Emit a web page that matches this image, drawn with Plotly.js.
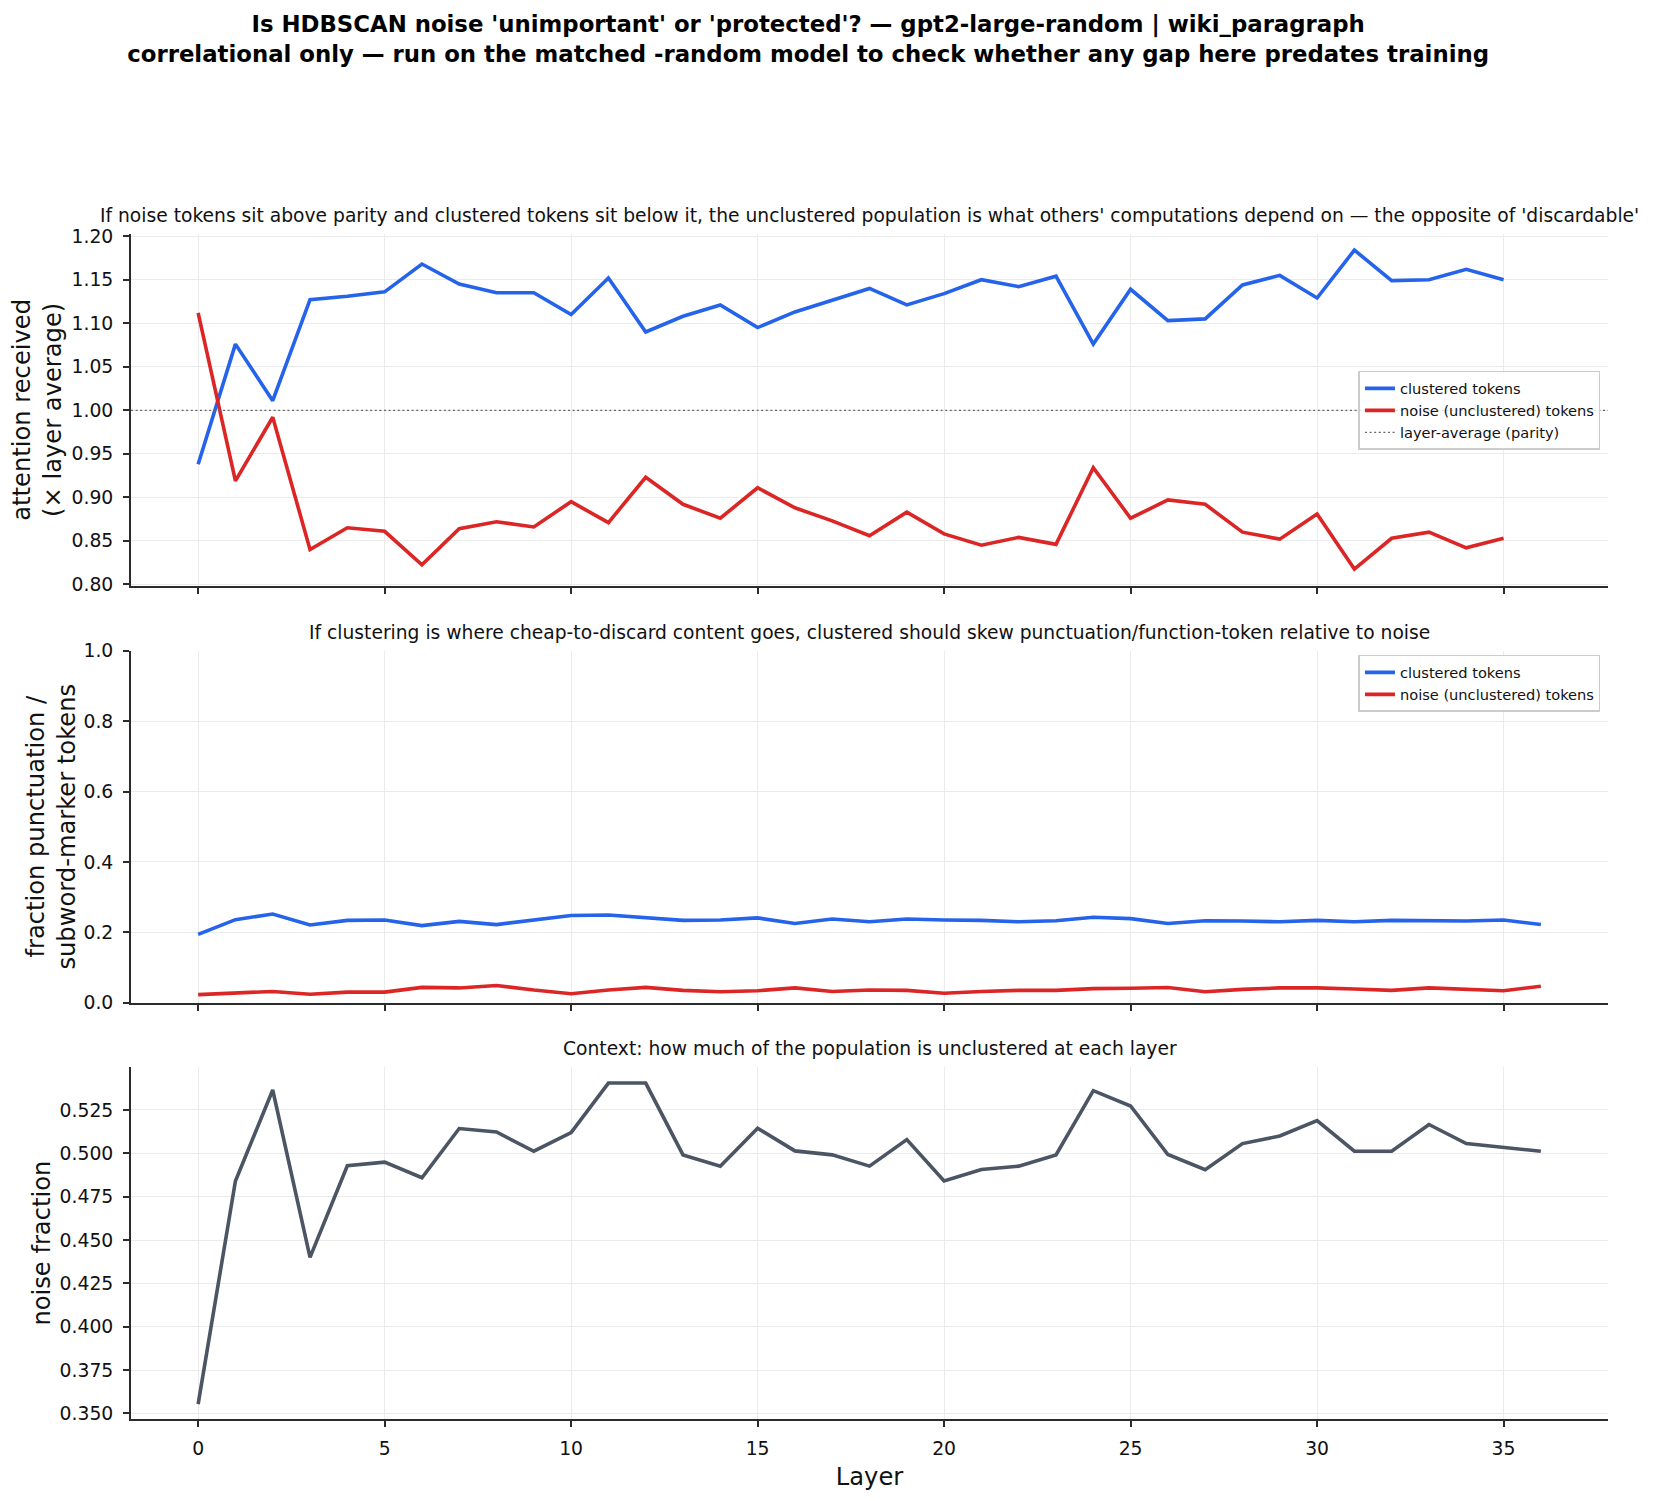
<!DOCTYPE html>
<html>
<head>
<meta charset="utf-8">
<script src="https://cdn.plot.ly/plotly-3.0.1.min.js"></script>
<style>
  html, body { margin: 0; padding: 0; background: #ffffff; }
  #chart { width: 1656px; height: 1501px; }
</style>
</head>
<body>
<div id="chart"></div>
<script>
// Layer indices: attention stats cover layers 0-35, token stats cover 0-36
const layersAttn = [0,1,2,3,4,5,6,7,8,9,10,11,12,13,14,15,16,17,18,19,20,21,22,23,24,25,26,27,28,29,30,31,32,33,34,35];
const layersAll = [0,1,2,3,4,5,6,7,8,9,10,11,12,13,14,15,16,17,18,19,20,21,22,23,24,25,26,27,28,29,30,31,32,33,34,35,36];

// Attention received, relative to the layer average
const attnClustered = [0.938,1.076,1.011,1.127,1.131,1.136,1.168,1.145,1.135,1.135,1.110,1.152,1.090,1.108,1.121,1.095,1.113,1.126,1.140,1.121,1.134,1.150,1.142,1.154,1.076,1.139,1.103,1.105,1.144,1.155,1.129,1.184,1.149,1.150,1.162,1.150];
const attnNoise = [1.112,0.919,0.992,0.840,0.865,0.861,0.8225,0.864,0.872,0.866,0.895,0.871,0.923,0.892,0.876,0.911,0.888,0.873,0.856,0.883,0.858,0.845,0.854,0.846,0.934,0.876,0.897,0.892,0.860,0.852,0.881,0.8176,0.853,0.860,0.842,0.853];
const PARITY = 1.0;

// Fraction of punctuation / subword-marker tokens in each population
const punctClustered = [0.194,0.236,0.252,0.221,0.234,0.235,0.219,0.231,0.222,0.234,0.248,0.249,0.241,0.234,0.235,0.241,0.225,0.238,0.230,0.238,0.235,0.234,0.230,0.233,0.243,0.239,0.225,0.233,0.232,0.230,0.234,0.230,0.234,0.233,0.232,0.235,0.222];
const punctNoise = [0.023,0.0265,0.032,0.024,0.030,0.030,0.0435,0.042,0.049,0.036,0.0256,0.036,0.0435,0.035,0.031,0.034,0.042,0.032,0.036,0.035,0.027,0.032,0.035,0.035,0.040,0.041,0.043,0.031,0.038,0.042,0.042,0.039,0.035,0.042,0.038,0.034,0.047];

// Share of tokens left unclustered by HDBSCAN
const noiseFrac = [0.3554,0.484,0.5365,0.440,0.4928,0.4949,0.4859,0.5143,0.5123,0.5012,0.512,0.5405,0.5405,0.4991,0.4926,0.5145,0.5014,0.4991,0.4926,0.5079,0.484,0.4907,0.4926,0.4991,0.5361,0.5273,0.4993,0.4905,0.5056,0.510,0.5189,0.5012,0.5012,0.5166,0.5056,0.5035,0.5012];

const xTicks = [0,5,10,15,20,25,30,35];

const BLUE = '#2563eb', RED = '#dc2626', SLATE = '#4b5563';
const LW = 3.6;
const FONT = 'DejaVu Sans';

const traces = [
  { x: layersAttn, y: attnClustered, type: 'scatter', mode: 'lines', name: 'clustered tokens',
    line: { color: BLUE, width: LW }, xaxis: 'x', yaxis: 'y', legend: 'legend' },
  { x: layersAttn, y: attnNoise, type: 'scatter', mode: 'lines', name: 'noise (unclustered) tokens',
    line: { color: RED, width: LW }, xaxis: 'x', yaxis: 'y', legend: 'legend' },
  { x: layersAll, y: punctClustered, type: 'scatter', mode: 'lines', name: 'clustered tokens',
    line: { color: BLUE, width: LW }, xaxis: 'x2', yaxis: 'y2', legend: 'legend2' },
  { x: layersAll, y: punctNoise, type: 'scatter', mode: 'lines', name: 'noise (unclustered) tokens',
    line: { color: RED, width: LW }, xaxis: 'x2', yaxis: 'y2', legend: 'legend2' },
  { x: layersAll, y: noiseFrac, type: 'scatter', mode: 'lines', name: 'noise fraction',
    line: { color: SLATE, width: LW }, xaxis: 'x3', yaxis: 'y3', showlegend: false }
];

const axisLine = {
  showline: true, linecolor: '#2b2b2b', linewidth: 1.8,
  ticks: 'outside', ticklen: 6, tickwidth: 1.5, tickcolor: '#2b2b2b',
  showgrid: true, gridcolor: '#ebebeb', gridwidth: 1,
  zeroline: false, tickfont: { family: FONT, size: 18.8, color: '#111111' }
};

const xBase = Object.assign({}, axisLine, {
  range: [-1.8, 37.8], tickmode: 'array', tickvals: xTicks, ticklabelstandoff: 6
});

const yTitleFont = { family: FONT, size: 24.2, color: '#111111' };

const legendBase = {
  xref: 'paper', yref: 'paper', x: 0.9949, xanchor: 'right', yanchor: 'top',
  bgcolor: 'rgba(255,255,255,0.8)', bordercolor: '#cccccc', borderwidth: 1.5,
  font: { family: FONT, size: 14.6, color: '#111111' }
};

const subTitleFont = { family: FONT, size: 18.7, color: '#111111' };

const layout = {
  width: 1656, height: 1501,
  margin: { l: 131, r: 48, t: 234, b: 82, pad: 0 },
  paper_bgcolor: '#ffffff', plot_bgcolor: '#ffffff',
  font: { family: FONT, color: '#111111' },
  title: {
    text: "<b>Is HDBSCAN noise 'unimportant' or 'protected'? — gpt2-large-random | wiki_paragraph<br>correlational only — run on the matched -random model to check whether any gap here predates training</b>",
    font: { family: FONT, size: 22.8, color: '#000000' },
    xref: 'container', yref: 'container', x: 0.488, xanchor: 'center', y: 0.9787, yanchor: 'middle'
  },
  xaxis: Object.assign({}, xBase, { anchor: 'y', domain: [0, 1], showticklabels: false }),
  xaxis2: Object.assign({}, xBase, { anchor: 'y2', domain: [0, 1], matches: 'x', showticklabels: false }),
  xaxis3: Object.assign({}, xBase, {
    anchor: 'y3', domain: [0, 1], matches: 'x',
    title: { text: 'Layer', font: yTitleFont, standoff: 10 }, automargin: true
  }),
  yaxis: Object.assign({}, axisLine, {
    domain: [0.7032, 1], anchor: 'x', range: [0.7985, 1.2025],
    tick0: 0.8, dtick: 0.05, tickformat: '.2f', ticklabelstandoff: 6, automargin: true,
    title: { text: 'attention received<br>(× layer average)', font: yTitleFont, standoff: 3 }
  }),
  yaxis2: Object.assign({}, axisLine, {
    domain: [0.3513, 0.6483], anchor: 'x2', range: [0, 1],
    tick0: 0, dtick: 0.2, tickformat: '.1f', ticklabelstandoff: 6, automargin: true,
    title: { text: 'fraction punctuation /<br>subword-marker tokens', font: yTitleFont, standoff: 1 }
  }),
  yaxis3: Object.assign({}, axisLine, {
    domain: [0, 0.2968], anchor: 'x3', range: [0.3468, 0.5496],
    tick0: 0.35, dtick: 0.025, tickformat: '.3f', ticklabelstandoff: 6, automargin: true,
    title: { text: 'noise fraction', font: yTitleFont, standoff: 2 }
  }),
  legend: Object.assign({}, legendBase, { y: 0.8845 }),
  legend2: Object.assign({}, legendBase, { y: 0.6448 }),
  shapes: [
    { type: 'line', xref: 'x domain', yref: 'y', x0: 0, x1: 1, y0: PARITY, y1: PARITY,
      line: { color: '#666666', width: 1.3, dash: '2px,2.6px' },
      showlegend: true, name: 'layer-average (parity)', legend: 'legend' }
  ],
  annotations: [
    { text: "If noise tokens sit above parity and clustered tokens sit below it, the unclustered population is what others' computations depend on — the opposite of 'discardable'",
      xref: 'x domain', yref: 'y domain', x: 0.5, y: 1, xanchor: 'center', yanchor: 'bottom', yshift: 6,
      showarrow: false, font: subTitleFont },
    { text: 'If clustering is where cheap-to-discard content goes, clustered should skew punctuation/function-token relative to noise',
      xref: 'x2 domain', yref: 'y2 domain', x: 0.5, y: 1, xanchor: 'center', yanchor: 'bottom', yshift: 6,
      showarrow: false, font: subTitleFont },
    { text: 'Context: how much of the population is unclustered at each layer',
      xref: 'x3 domain', yref: 'y3 domain', x: 0.5, y: 1, xanchor: 'center', yanchor: 'bottom', yshift: 6,
      showarrow: false, font: subTitleFont }
  ]
};

Plotly.newPlot('chart', traces, layout, { displayModeBar: false, responsive: false });
</script>
</body>
</html>
